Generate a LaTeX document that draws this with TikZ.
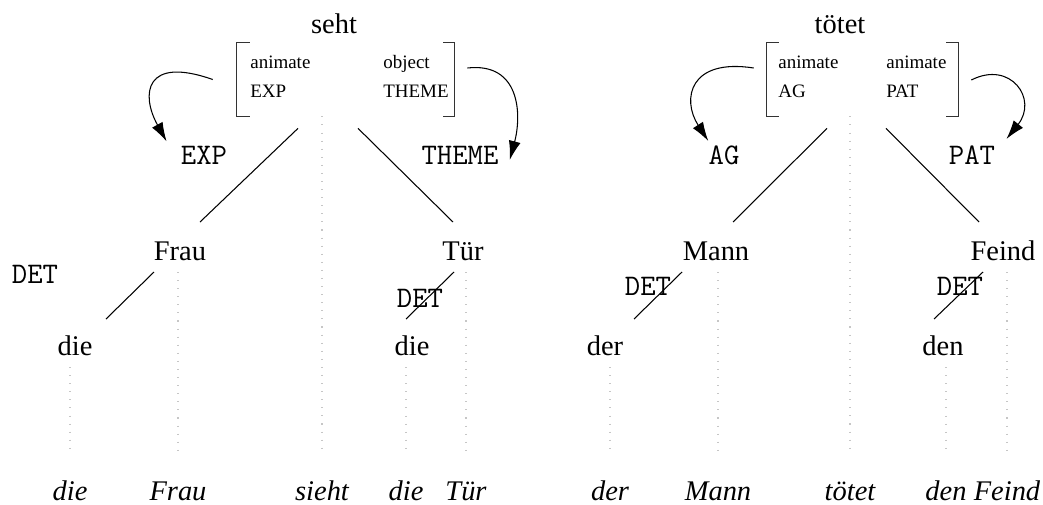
\documentclass[tikz,border=0pt]{standalone}
\usepackage{fontspec}
\setmainfont{Liberation Serif}
\usetikzlibrary{arrows.meta}

\begin{document}
\begin{tikzpicture}[
    % Unidades: un paso = 0.02cm, eje y hacia abajo
    x=0.02cm, y=-0.02cm,
    % Estilos de palabras, rasgos y conexiones
    word/.style={inner sep=0pt, anchor=base, font=\fontsize{16.2}{19}\selectfont},
    surface/.style={inner sep=0pt, anchor=base, font=\fontsize{16.2}{19}\selectfont\itshape},
    role/.style={inner sep=0pt, anchor=base, font=\fontsize{17}{20}\selectfont\ttfamily},
    feature/.style={inner sep=0pt, anchor=base west, font=\fontsize{10.8}{13}\selectfont},
    avm/.style={inner sep=0pt, minimum height=1.46cm},
    bracket/.style={draw=black!80, line width=0.6pt},
    branch/.style={line width=0.6pt},
    trace/.style={draw=gray!45, line width=0.6pt, dash pattern=on 0.6pt off 4pt},
    arrow/.style={line width=0.6pt, -{Latex[length=3.8mm, width=2.4mm]}}
    ]
    \useasboundingbox (0,0) rectangle (1043,504);

    % Arbol de "seht"
    \node[word] (seht) at (334,33) {seht};
    \node[avm, minimum width=4.34cm] (avmseht) at (345.5,79.5) {};
    \node[feature] (sehtanim) at (250,68) {animate};
    \node[feature] (sehtexp) at (250,97) {EXP};
    \node[feature] (sehtobj) at (383,68) {object};
    \node[feature] (sehttheme) at (383,97) {THEME};
    \draw[bracket] ([shift={(13,0)}]avmseht.north west) -| (avmseht.south west) -- ++(13,0);
    \draw[bracket] ([shift={(-11,0)}]avmseht.north east) -| (avmseht.south east) -- ++(-11,0);

    \node[role] (exp) at (204,164) {EXP};
    \node[role] (theme) at (460,164) {THEME};

    \node[word] (frau) at (180,260) {Frau};
    \node[word] (tuer) at (463,260) {Tür};
    \node[role] (deta) at (35,283) {DET};
    \node[role] (detb) at (420,307) {DET};
    \node[word] (diea) at (75,355) {die};
    \node[word] (dieb) at (412,355) {die};

    % Arbol de "tötet"
    \node[word] (toetet) at (840,33) {tötet};
    \node[avm, minimum width=3.82cm] (avmtoetet) at (862.5,79.5) {};
    \node[feature] (toetetanima) at (778,68) {animate};
    \node[feature] (toetetag) at (778,97) {AG};
    \node[feature] (toetetanimb) at (886,68) {animate};
    \node[feature] (toetetpat) at (886,97) {PAT};
    \draw[bracket] ([shift={(12,0)}]avmtoetet.north west) -| (avmtoetet.south west) -- ++(12,0);
    \draw[bracket] ([shift={(-12,0)}]avmtoetet.north east) -| (avmtoetet.south east) -- ++(-12,0);

    \node[role] (ag) at (724,164) {AG};
    \node[role] (pat) at (972,164) {PAT};

    \node[word] (mann) at (716,260) {Mann};
    \node[word] (feind) at (1003,260) {Feind};
    \node[role] (detc) at (648,295) {DET};
    \node[role] (detd) at (960,295) {DET};
    \node[word] (der) at (605,355) {der};
    \node[word] (den) at (943,355) {den};

    % Oracion
    \node[surface] (sdie) at (70,500) {die};
    \node[surface] (sfrau) at (178,500) {Frau};
    \node[surface] (ssieht) at (322,500) {sieht};
    \node[surface] (sdieb) at (406,500) {die};
    \node[surface] (stuer) at (466,500) {Tür};
    \node[surface] (sder) at (610,500) {der};
    \node[surface] (smann) at (718,500) {Mann};
    \node[surface] (stoetet) at (850,500) {tötet};
    \node[surface] (sden) at (946,500) {den};
    \node[surface] (sfeind) at (1007,500) {Feind};

    % Ramas
    \draw[branch] ([shift={(-47.5,12)}]avmseht.south) -- ([shift={(20,-38)}]frau.base);
    \draw[branch] ([shift={(12.5,12)}]avmseht.south) -- ([shift={(-10,-38)}]tuer.base);
    \draw[branch] ([shift={(-26,12)}]frau.base) -- ([shift={(31,-36)}]diea.base);
    \draw[branch] ([shift={(-9,12)}]tuer.base) -- ([shift={(-6,-36)}]dieb.base);
    \draw[branch] ([shift={(-35.5,12)}]avmtoetet.south) -- ([shift={(17,-38)}]mann.base);
    \draw[branch] ([shift={(23.5,12)}]avmtoetet.south) -- ([shift={(-24,-38)}]feind.base);
    \draw[branch] ([shift={(-34,12)}]mann.base) -- ([shift={(29,-36)}]der.base);
    \draw[branch] ([shift={(-20,12)}]feind.base) -- ([shift={(-9,-36)}]den.base);

    % Flechas de papeles
    \draw[arrow] ([shift={(-24,0)}]avmseht.west) .. controls +(-68,-24) and +(-26,-47) .. ([shift={(-14,-4)}]exp.north west);
    \draw[arrow] ([shift={(13,-11.5)}]avmseht.east) .. controls +(53,-6) and +(12,-45) .. ([shift={(11,5)}]theme.east);
    \draw[arrow] ([shift={(-13,-11.5)}]avmtoetet.west) .. controls +(-64,-10) and +(-27,-42) .. ([shift={(0,-4)}]ag.north west);
    \draw[arrow] ([shift={(13,0.5)}]avmtoetet.east) .. controls +(39,-20) and +(32,-40) .. ([shift={(11,-6)}]pat.north east);

    % Lineas punteadas hacia la oracion
    \draw[trace] (avmseht.south -| ssieht) -- ([shift={(0,-48)}]ssieht.base);
    \draw[trace] ([shift={(0,12)}]frau.base -| sfrau) -- ([shift={(0,-48)}]sfrau.base);
    \draw[trace] ([shift={(0,12)}]tuer.base -| stuer) -- ([shift={(0,-48)}]stuer.base);
    \draw[trace] ([shift={(0,12)}]diea.base -| sdie) -- ([shift={(0,-48)}]sdie.base);
    \draw[trace] ([shift={(0,12)}]dieb.base -| sdieb) -- ([shift={(0,-48)}]sdieb.base);
    \draw[trace] (avmtoetet.south -| stoetet) -- ([shift={(0,-48)}]stoetet.base);
    \draw[trace] ([shift={(0,12)}]mann.base -| smann) -- ([shift={(0,-48)}]smann.base);
    \draw[trace] ([shift={(0,12)}]feind.base -| sfeind) -- ([shift={(0,-48)}]sfeind.base);
    \draw[trace] ([shift={(0,12)}]der.base -| sder) -- ([shift={(0,-48)}]sder.base);
    \draw[trace] ([shift={(0,12)}]den.base -| sden) -- ([shift={(0,-48)}]sden.base);

\end{tikzpicture}
\end{document}
